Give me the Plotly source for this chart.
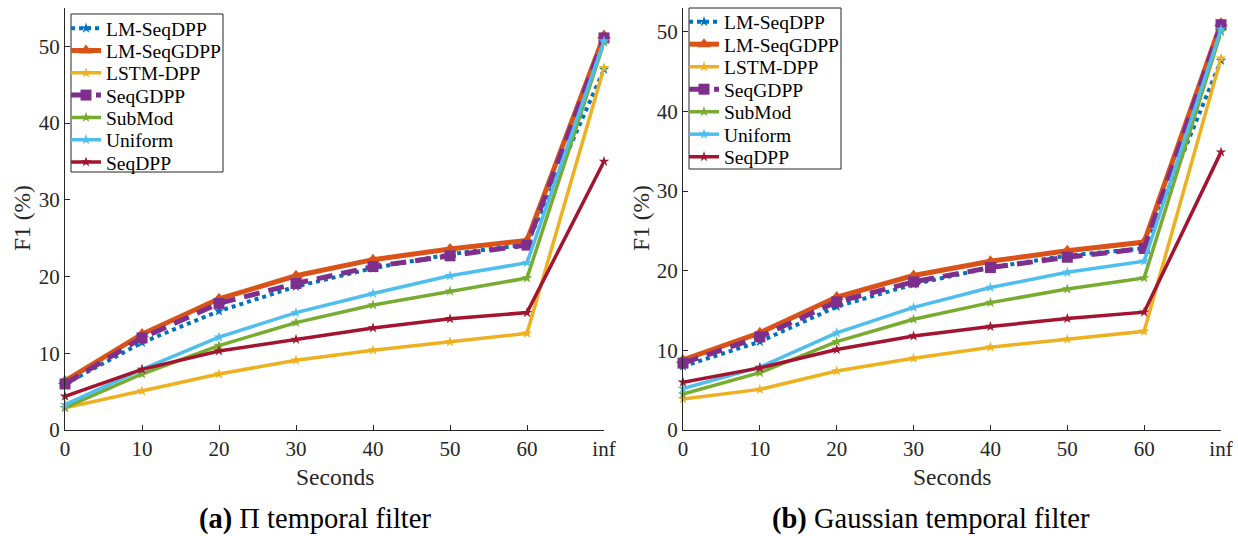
import plotly.graph_objects as go

x_labels = ["0", "10", "20", "30", "40", "50", "60", "inf"]
series_names = ["LM-SeqDPP", "LM-SeqGDPP", "LSTM-DPP", "SeqGDPP", "SubMod", "Uniform", "SeqDPP"]

# (a) Pi temporal filter
a_lm_seqdpp  = [6.0, 11.4, 15.5, 18.7, 21.1, 22.9, 24.2, 47.0]
a_lm_seqgdpp = [6.4, 12.5, 17.1, 20.1, 22.2, 23.6, 24.7, 51.4]
a_lstm_dpp   = [2.9, 5.1, 7.3, 9.1, 10.4, 11.5, 12.6, 47.2]
a_seqgdpp    = [6.0, 12.0, 16.5, 19.1, 21.3, 22.7, 24.1, 51.1]
a_submod     = [2.9, 7.3, 11.0, 14.0, 16.3, 18.1, 19.8, 50.5]
a_uniform    = [3.3, 7.9, 12.1, 15.3, 17.8, 20.1, 21.8, 50.7]
a_seqdpp     = [4.4, 7.9, 10.3, 11.8, 13.3, 14.5, 15.3, 35.0]

# (b) Gaussian temporal filter
b_lm_seqdpp  = [8.0, 11.1, 15.5, 18.3, 20.4, 21.9, 22.8, 46.4]
b_lm_seqgdpp = [8.8, 12.2, 16.7, 19.4, 21.2, 22.5, 23.6, 51.1]
b_lstm_dpp   = [3.9, 5.1, 7.4, 9.0, 10.4, 11.4, 12.4, 46.7]
b_seqgdpp    = [8.4, 11.7, 16.1, 18.6, 20.4, 21.7, 22.8, 50.9]
b_submod     = [4.5, 7.2, 11.1, 13.9, 16.0, 17.7, 19.1, 50.0]
b_uniform    = [5.2, 7.9, 12.2, 15.4, 17.9, 19.8, 21.2, 50.3]
b_seqdpp     = [6.0, 7.8, 10.1, 11.8, 13.0, 14.0, 14.8, 34.9]

panel_a = [a_lm_seqdpp, a_lm_seqgdpp, a_lstm_dpp, a_seqgdpp, a_submod, a_uniform, a_seqdpp]
panel_b = [b_lm_seqdpp, b_lm_seqgdpp, b_lstm_dpp, b_seqgdpp, b_submod, b_uniform, b_seqdpp]

styles = [
    dict(color="#0072BD", width=4, dash="dot", symbol="star", size=8),
    dict(color="#D95319", width=5, dash="solid", symbol="triangle-up", size=12),
    dict(color="#EDB120", width=3.5, dash="solid", symbol="star", size=8),
    dict(color="#7E2F8E", width=5, dash="16px,9px", symbol="square", size=11),
    dict(color="#77AC30", width=3.5, dash="solid", symbol="star", size=8),
    dict(color="#4DBEEE", width=3.5, dash="solid", symbol="star", size=8),
    dict(color="#A2142F", width=3.5, dash="solid", symbol="star", size=8),
]

FONT = "Liberation Serif"
TXT = "#262626"
W, H = 1238, 536

def px(xp):
    return xp / W

def py(yp):
    return (H - yp) / H

fig = go.Figure()

# legend geometry per panel: (box left, box top, box right, box bottom, first row centre, row step)
legend_geo = [
    (71, 14, 223, 172, 28.5, 22.3),
    (689, 8, 841, 169, 22.0, 22.5),
]

legend_layout = {}
for p, (panel, (xa, ya)) in enumerate(zip([panel_a, panel_b], [("x", "y"), ("x2", "y2")])):
    bl, bt, br, bb, r0, step = legend_geo[p]
    for i, (name, vals, st) in enumerate(zip(series_names, panel, styles)):
        idx = p * len(series_names) + i + 1
        leg = "legend" if idx == 1 else f"legend{idx}"
        fig.add_trace(go.Scatter(
            x=list(range(len(x_labels))), y=vals, name=name, mode="lines+markers",
            xaxis=xa, yaxis=ya, legend=leg, cliponaxis=False,
            line=dict(color=st["color"], width=st["width"], dash=st["dash"]),
            marker=dict(symbol=st["symbol"], size=st["size"], color=st["color"],
                        line=dict(width=0)),
        ))
        legend_layout[leg] = dict(
            x=px(bl - 5), y=py(r0 + i * step), xanchor="left", yanchor="middle",
            bgcolor="rgba(0,0,0,0)", borderwidth=0,
            font=dict(family=FONT, size=19.5, color="black"),
            itemwidth=30, tracegroupgap=0,
        )
    fig.add_shape(type="rect", xref="paper", yref="paper",
                  x0=px(bl), x1=px(br), y0=py(bb), y1=py(bt),
                  line=dict(color=TXT, width=1), fillcolor="white", layer="above")

axis_common = dict(
    showline=True, linecolor=TXT, linewidth=1, ticks="inside", ticklen=5,
    tickcolor=TXT, tickwidth=1, showgrid=False, zeroline=False, automargin=False,
    tickfont=dict(family=FONT, size=21, color=TXT), mirror=False,
)

ydom = [py(430), py(8)]
fig.update_layout(
    width=W, height=H, margin=dict(l=0, r=0, t=0, b=0, autoexpand=False),
    paper_bgcolor="white", plot_bgcolor="white",
    font=dict(family=FONT, color=TXT),
    xaxis=dict(domain=[px(65), px(604)], range=[0, 7], tickmode="array",
               tickvals=list(range(8)), ticktext=x_labels, anchor="y", **axis_common),
    yaxis=dict(domain=ydom, range=[0, 55], tickvals=[0, 10, 20, 30, 40, 50],
               anchor="x", **axis_common),
    xaxis2=dict(domain=[px(683), px(1221)], range=[0, 7], tickmode="array",
                tickvals=list(range(8)), ticktext=x_labels, anchor="y2", **axis_common),
    yaxis2=dict(domain=ydom, range=[0, 53], tickvals=[0, 10, 20, 30, 40, 50],
                anchor="x2", **axis_common),
    showlegend=True,
    **legend_layout,
)

annots = [
    dict(text="F1 (%)", x=px(22), y=py(218), textangle=-90),
    dict(text="F1 (%)", x=px(641), y=py(218), textangle=-90),
    dict(text="Seconds", x=px(335), y=py(477)),
    dict(text="Seconds", x=px(952), y=py(477)),
]
for a in annots:
    fig.add_annotation(xref="paper", yref="paper", showarrow=False,
                       xanchor="center", yanchor="middle",
                       font=dict(family=FONT, size=23.5, color=TXT), **a)

captions = [
    ("<b>(a)</b> \u03a0 temporal filter", 315),
    ("<b>(b)</b> Gaussian temporal filter", 931),
]
for text, cx in captions:
    fig.add_annotation(text=text, xref="paper", yref="paper",
                       x=px(cx), y=py(519), showarrow=False,
                       xanchor="center", yanchor="middle",
                       font=dict(family=FONT, size=28.5, color="black"))

fig.write_html("out.html", config={"displayModeBar": False},
               post_script="document.body.style.margin='0px';document.body.style.overflow='hidden';")
